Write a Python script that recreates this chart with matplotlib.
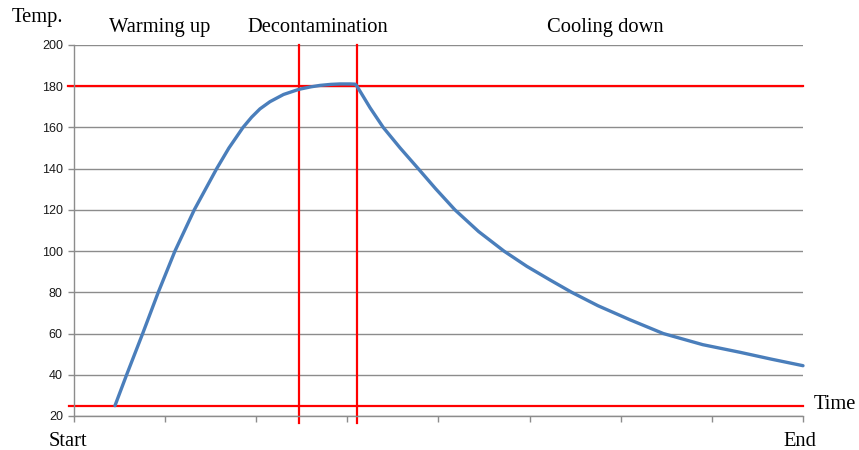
import matplotlib
matplotlib.use("Agg")
import matplotlib.pyplot as plt

# Time in arbitrary units (0 = Start, 8 = End), temperature
time = [0.45, 0.578, 0.754, 0.925, 1.108, 1.320, 1.566, 1.70, 1.855, 1.95,
        2.041, 2.151, 2.30, 2.469, 2.60, 2.70, 2.82, 2.919, 3.03, 3.084,
        3.106, 3.25, 3.394, 3.58, 3.778, 3.97, 4.181, 4.44, 4.719, 4.97,
        5.224, 5.462, 5.75, 6.10, 6.467, 6.90, 7.309, 7.65, 8.0]
temp = [25, 40, 60, 80, 100, 120, 140, 150, 160, 165,
        169, 172.5, 176, 178.5, 179.7, 180.4, 180.9, 181.1, 181.1, 181.0,
        180, 169.5, 160, 150, 140, 130.2, 120, 109.5, 100, 92.6,
        86.0, 80, 73.5, 66.7, 60, 54.6, 50.9, 47.6, 44.4]

# reference lines
upper_limit = 180
lower_limit = 25
phase_bounds = [2.469, 3.106]

phase_names = ["Warming up", "Decontamination", "Cooling down"]
phase_label_x = [0.94, 2.68, 5.83]
yticks = list(range(20, 201, 20))

serif = "Liberation Serif"
red = "#ff0000"

fig = plt.figure(figsize=(8.59, 4.5), dpi=100)
ax = fig.add_axes([0.0861, 0.0756, 0.8487, 0.8244])

ax.set_xlim(0, 8)
ax.set_ylim(20, 200)
ax.set_yticks(yticks)
ax.set_xticks(range(0, 9))
ax.set_xticklabels([])
ax.grid(axis="y", color="#8c8c8c", linewidth=1)
ax.set_axisbelow(True)
for s in ["top", "right"]:
    ax.spines[s].set_visible(False)
for s in ["left", "bottom"]:
    ax.spines[s].set_color("#8c8c8c")
    ax.spines[s].set_linewidth(1)
ax.tick_params(axis="both", color="#8c8c8c", length=4, width=1)
ax.tick_params(axis="y", labelsize=9, pad=4, labelcolor="#1a1a1a")
for lbl in ax.get_yticklabels():
    lbl.set_family("Liberation Sans")

# the curve
ax.plot(time, temp, color="#4a7ebb", linewidth=2.4, solid_capstyle="round",
        solid_joinstyle="round", zorder=3, clip_on=False)

# red limit lines
ax.plot([-0.066, 8], [upper_limit, upper_limit], color=red, lw=1.6, clip_on=False, zorder=2)
ax.plot([-0.055, 8], [lower_limit, lower_limit], color=red, lw=1.6, clip_on=False, zorder=2)
for xb in phase_bounds:
    ax.plot([xb, xb], [200, 16.6], color=red, lw=1.6, clip_on=False, zorder=2)

# texts
for name, xp in zip(phase_names, phase_label_x):
    ax.text(xp, 208.5, name, ha="center", va="center", fontsize=14.8, family=serif)
ax.text(-0.40, 213.5, "Temp.", ha="center", va="center", fontsize=14.8, family=serif)
ax.text(8.12, 25.5, "Time", ha="left", va="center", fontsize=14.8, family=serif)
ax.text(-0.07, 7.5, "Start", ha="center", va="center", fontsize=14.8, family=serif)
ax.text(7.97, 7.5, "End", ha="center", va="center", fontsize=14.8, family=serif)

fig.savefig("out.png", dpi=100, facecolor="white")
